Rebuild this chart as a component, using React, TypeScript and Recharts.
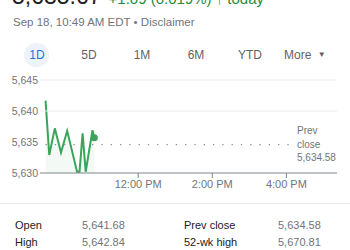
import { ComposedChart, Area, XAxis, YAxis, ReferenceLine, ReferenceDot } from 'recharts';

// ─── Data ─────────────────────────────────────────────────────────────────────

// minutes after 9:30 AM
const minutes = [0, 6, 15, 25, 35, 51, 55, 60, 65, 76, 79];
const prices = [5641.68, 5632.9, 5637.2, 5633.3, 5636.8, 5630.2, 5630.2, 5636.4, 5630.2, 5636.9, 5635.67];

const xTicks = [150, 270, 390];
const xTickLabels = ['12:00 PM', '2:00 PM', '4:00 PM'];
const yTicks = [5630, 5635, 5640, 5645];
const gridLevels = [5640, 5645];

const PREV_CLOSE = 5634.58;
const tabs = ['1D', '5D', '1M', '6M', 'YTD'];
const tabCenters = [37, 89, 142, 196, 250];

const statLabels = [['Open', 'Prev close'], ['High', '52-wk high']];
const statValues = [['5,641.68', '5,634.58'], ['5,642.84', '5,670.81']];

// ─── Styles ───────────────────────────────────────────────────────────────────

const FONT = '"Liberation Sans", Arial, Helvetica, sans-serif';
const GREEN_LINE = '#3aa55a';
const GREEN_TEXT = '#1e8e3e';
const GRAY = '#70757a';
const DARK = '#202124';

const chartData = minutes.map((t, i) => ({ t, price: prices[i] }));

export default function App() {
  return (
    <div
      style={{
        position: 'fixed',
        left: 0,
        top: 0,
        width: 350,
        height: 250,
        overflow: 'hidden',
        background: '#fff',
        fontFamily: FONT,
      }}
    >
      {/* Header */}
      <div style={{ position: 'absolute', left: 12, top: -17, whiteSpace: 'nowrap', lineHeight: '26px' }}>
        <span style={{ fontSize: 23, color: DARK, fontWeight: 300 }}>5,635.67</span>
        <span style={{ fontSize: 15, color: GREEN_TEXT, marginLeft: 7 }}>
          +1.09 (0.019%) <span style={{ fontWeight: 'bold' }}>↑</span> today
        </span>
      </div>
      <div style={{ position: 'absolute', left: 13, top: 16, fontSize: 11.5, color: GRAY, whiteSpace: 'nowrap' }}>
        Sep 18, 10:49 AM EDT • Disclaimer
      </div>

      {/* Range tabs */}
      <div
        style={{
          position: 'absolute',
          left: 24,
          top: 43,
          width: 25,
          height: 24,
          borderRadius: 12,
          background: '#eef3fb',
        }}
      />
      {tabs.map((tab, i) => (
        <div
          key={tab}
          style={{
            position: 'absolute',
            left: tabCenters[i] - 20,
            width: 40,
            top: 48,
            textAlign: 'center',
            fontSize: 12,
            color: i === 0 ? '#1a73e8' : '#5f6368',
          }}
        >
          {tab}
        </div>
      ))}
      <div style={{ position: 'absolute', left: 284, top: 48, fontSize: 12, color: '#5f6368' }}>
        More <span style={{ fontSize: 8, marginLeft: 3, verticalAlign: 2 }}>▼</span>
      </div>

      {/* Chart */}
      <div style={{ position: 'absolute', left: 0, top: 0 }}>
        <ComposedChart
          width={350}
          height={200}
          data={chartData}
          margin={{ top: 80, right: 13, bottom: 5, left: 0 }}
        >
          <XAxis
            dataKey="t"
            type="number"
            domain={[-9, 472]}
            ticks={xTicks}
            tickFormatter={(v: number) => xTickLabels[xTicks.indexOf(v)]}
            height={22}
            tickSize={5}
            tickMargin={2}
            axisLine={{ stroke: '#80868b' }}
            tickLine={{ stroke: '#80868b' }}
            tick={{ fill: GRAY, fontSize: 11, fontFamily: FONT }}
            allowDataOverflow
          />
          <YAxis
            type="number"
            domain={[5630, 5645]}
            ticks={yTicks}
            width={40}
            tickSize={0}
            tickMargin={2}
            axisLine={false}
            tickLine={false}
            tick={{ fill: GRAY, fontSize: 10.5, fontFamily: FONT }}
            tickFormatter={(v: number) => v.toLocaleString('en-US')}
            allowDataOverflow
          />
          {gridLevels.map((g) => (
            <ReferenceLine key={g} y={g} stroke="#ececec" strokeWidth={1} />
          ))}
          <ReferenceLine
            segment={[
              { x: 0, y: PREV_CLOSE },
              { x: 398, y: PREV_CLOSE },
            ]}
            stroke="#8a8f94"
            strokeWidth={1.3}
            strokeDasharray="1.3 8"
          />
          <Area
            type="linear"
            dataKey="price"
            stroke={GREEN_LINE}
            strokeWidth={2}
            fill="#e9f5ec"
            fillOpacity={0.55}
            dot={false}
            activeDot={false}
            isAnimationActive={false}
          />
          <ReferenceDot
            x={minutes[minutes.length - 1]}
            y={prices[prices.length - 1]}
            r={3.5}
            fill={GREEN_LINE}
            stroke="none"
          />
        </ComposedChart>
      </div>

      {/* Prev close label */}
      <div
        style={{
          position: 'absolute',
          left: 297,
          top: 124,
          fontSize: 10,
          lineHeight: '13.5px',
          color: GRAY,
        }}
      >
        Prev
        <br />
        close
        <br />
        5,634.58
      </div>

      {/* Stats */}
      <div style={{ position: 'absolute', left: 0, top: 203, width: 350, height: 1, background: '#e8eaed' }} />
      {statLabels.map((row, r) =>
        row.map((label, c) => (
          <div key={label}>
            <div
              style={{
                position: 'absolute',
                left: c === 0 ? 15 : 184,
                top: 219 + r * 17,
                fontSize: 11,
                color: DARK,
                whiteSpace: 'nowrap',
              }}
            >
              {label}
            </div>
            <div
              style={{
                position: 'absolute',
                left: c === 0 ? 82 : 278,
                top: 219 + r * 17,
                fontSize: 11,
                color: GRAY,
                whiteSpace: 'nowrap',
              }}
            >
              {statValues[r][c]}
            </div>
          </div>
        ))
      )}
    </div>
  );
}
